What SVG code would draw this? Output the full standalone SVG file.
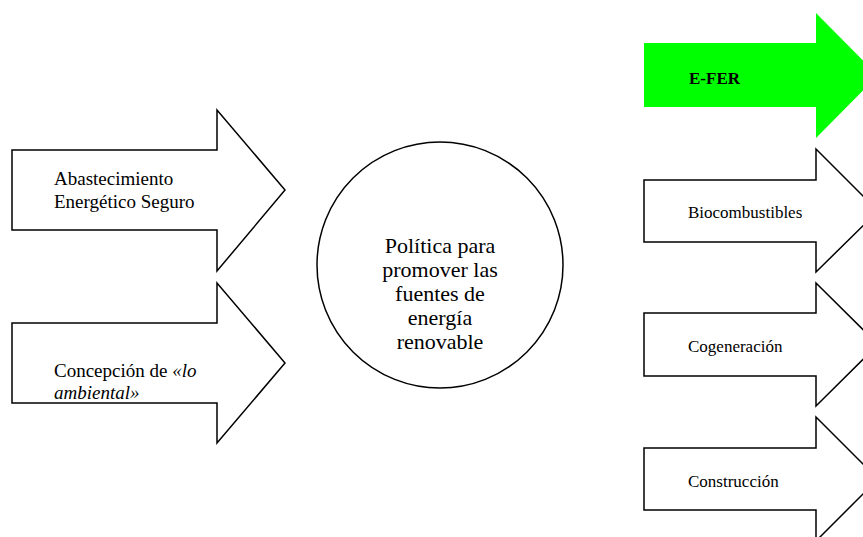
<svg xmlns="http://www.w3.org/2000/svg" width="863" height="537" viewBox="0 0 863 537">
<style>
.ar{fill:#fff;stroke:#000;stroke-width:1.5;stroke-linejoin:miter}
.t{font-family:"Liberation Serif","Times New Roman",Times,serif;font-size:19px;fill:#000}
.r{font-family:"Liberation Serif","Times New Roman",Times,serif;font-size:17px;fill:#000}
.c{font-family:"Liberation Serif","Times New Roman",Times,serif;font-size:22px;fill:#000;text-anchor:middle}
</style>
<rect width="863" height="537" fill="#fff"/>
<g id="n-abastecimiento">
<polygon class="ar" points="12,150 217,150 217,110 285,190 217,271 217,230 12,230"/>
<text class="t" x="54" y="185">Abastecimiento</text>
<text class="t" x="54" y="208">Energético Seguro</text>
</g>
<g id="n-concepcion">
<polygon class="ar" points="12,323 217,323 217,283 285,363 217,443 217,403 12,403"/>
<text class="t" x="54" y="377">Concepción de <tspan font-style="italic">«lo</tspan></text>
<text class="t" x="54" y="399" font-style="italic">ambiental»</text>
</g>
<g id="n-politica">
<circle cx="440" cy="265" r="123" fill="#fff" stroke="#000" stroke-width="1.5"/>
<text class="c" x="440" y="253">Política para</text>
<text class="c" x="440" y="277">promover las</text>
<text class="c" x="440" y="301">fuentes de</text>
<text class="c" x="440" y="325">energía</text>
<text class="c" x="440" y="349">renovable</text>
</g>
<g id="n-efer">
<polygon fill="#00ff00" points="644,43 816,43 816,13 878,75.5 816,138 816,107 644,107"/>
<text class="r" x="689" y="84" font-weight="bold">E-FER</text>
</g>
<g id="n-bio">
<polygon class="ar" points="644,180 816,180 816,149 878,211 816,272 816,242 644,242"/>
<text class="r" x="688" y="218">Biocombustibles</text>
</g>
<g id="n-cog">
<polygon class="ar" points="644,313 816,313 816,283 878,344.5 816,406 816,376 644,376"/>
<text class="r" x="688" y="352">Cogeneración</text>
</g>
<g id="n-con">
<polygon class="ar" points="644,448 816,448 816,417 878,479 816,541 816,510 644,510"/>
<text class="r" x="688" y="487">Construcción</text>
</g>
<g id="connectors"></g>
</svg>
